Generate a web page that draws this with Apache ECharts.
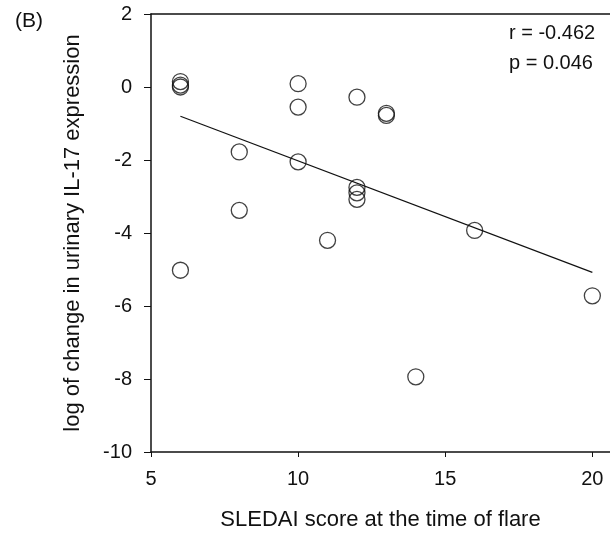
<!DOCTYPE html>
<html>
<head>
<meta charset="utf-8">
<script src="https://cdn.jsdelivr.net/npm/echarts@6/dist/echarts.min.js"></script>
<style>html,body{margin:0;padding:0;background:#fff;}#c{width:610px;height:536px;}</style>
</head>
<body>
<div id="c"></div>
<script>
// SLEDAI score at flare (x) vs log change in urinary IL-17 (y)
var sledai = [6, 6, 6, 6, 8, 8, 10, 10, 10, 11, 12, 12, 12, 12, 13, 13, 14, 16, 20];
var logChange = [0.15, 0.05, 0.0, -5.02, -1.78, -3.38, 0.09, -0.55, -2.05, -4.2, -0.28, -2.75, -2.9, -3.08, -0.72, -0.78, -7.94, -3.93, -5.72];
var fitX = [6, 20];
var fitY = [-0.8, -5.08];
var xTicks = [5, 10, 15, 20];
var yTicks = [-10, -8, -6, -4, -2, 0, 2];
var statLines = ['r = -0.462', 'p = 0.046'];
var panelLabel = '(B)';

var points = sledai.map(function (x, i) { return [x, logChange[i]]; });
var fitLine = fitX.map(function (x, i) { return [x, fitY[i]]; });

var font = 'Liberation Sans, Arial, sans-serif';
var xMin = 5, xMax = 20.6;
var chart = echarts.init(document.getElementById('c'), null, { renderer: 'canvas' });
chart.setOption({
  animation: false,
  backgroundColor: '#fff',
  grid: { left: 151, top: 14, right: 0, bottom: 83, show: false },
  xAxis: [{
    type: 'value', min: xMin, max: xMax, interval: 5,
    name: 'SLEDAI score at the time of flare', nameLocation: 'middle', nameGap: 57,
    nameTextStyle: { fontFamily: font, fontSize: 22, color: '#111' },
    axisLine: { show: true, onZero: false, lineStyle: { color: '#111', width: 1.5 } },
    axisTick: { show: true, length: 5, lineStyle: { color: '#111' }, customValues: xTicks },
    axisLabel: { margin: 17, fontFamily: font, fontSize: 20, color: '#111',
      showMaxLabel: true, showMinLabel: true, hideOverlap: false, customValues: xTicks },
    splitLine: { show: false }
  }, {
    type: 'value', position: 'top', min: xMin, max: xMax,
    axisLine: { show: true, onZero: false, lineStyle: { color: '#111', width: 1.5 } },
    axisTick: { show: false }, axisLabel: { show: false }, splitLine: { show: false }
  }],
  yAxis: {
    type: 'value', min: yTicks[0], max: yTicks[yTicks.length - 1], interval: 2,
    name: 'log of change in urinary IL-17 expression', nameLocation: 'middle', nameGap: 67,
    nameTextStyle: { fontFamily: font, fontSize: 22, color: '#111' },
    axisLine: { show: true, onZero: false, lineStyle: { color: '#111', width: 1.5 } },
    axisTick: { show: true, length: 7, lineStyle: { color: '#111' } },
    axisLabel: { margin: 19, fontFamily: font, fontSize: 20, color: '#111' },
    splitLine: { show: false }
  },
  series: [
    {
      type: 'scatter', data: points, symbol: 'circle', symbolSize: 16,
      itemStyle: { color: 'transparent', borderColor: '#111', borderWidth: 1.3 }
    },
    {
      type: 'line', data: fitLine, symbol: 'none',
      lineStyle: { color: '#111', width: 1.2 }
    }
  ],
  graphic: [
    { type: 'text', left: 15, top: 11, style: { text: panelLabel, font: '21px ' + font, fill: '#111' } },
    { type: 'text', left: 509, top: 23, style: { text: statLines[0], font: '20px ' + font, fill: '#111' } },
    { type: 'text', left: 509, top: 53, style: { text: statLines[1], font: '20px ' + font, fill: '#111' } }
  ]
});
</script>
</body>
</html>
